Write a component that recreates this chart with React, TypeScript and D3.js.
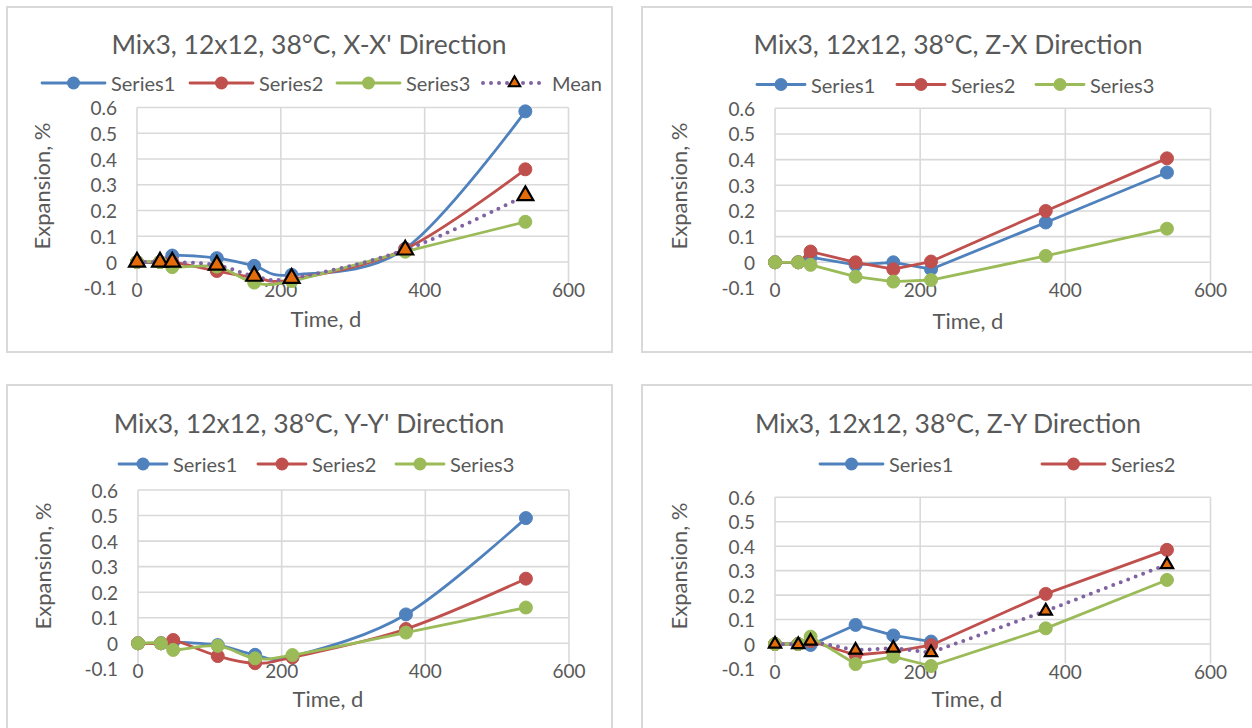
import * as d3 from "d3";

// days of measurement, shared by all four charts
const DAYS = [0, 32, 49, 111, 163, 215, 373, 540];
const X_TICKS = [0, 200, 400, 600];
const Y_TICKS = [-0.1, 0, 0.1, 0.2, 0.3, 0.4, 0.5, 0.6];

// X-X' direction
const XX_S1 = [0, 0, 0.025, 0.015, -0.015, -0.05, 0.052, 0.585];
const XX_S2 = [0, 0, 0, -0.035, -0.06, -0.068, 0.05, 0.36];
const XX_S3 = [0, 0, -0.02, -0.018, -0.08, -0.074, 0.04, 0.156];
const XX_MEAN = [0, 0, 0, -0.012, -0.055, -0.063, 0.047, 0.258];

// Z-X direction
const ZX_S1 = [0, 0, 0.02, -0.01, 0, -0.027, 0.155, 0.35];
const ZX_S2 = [0, 0, 0.042, 0, -0.027, 0.003, 0.2, 0.405];
const ZX_S3 = [0, 0, -0.01, -0.056, -0.075, -0.069, 0.025, 0.131];

// Y-Y' direction
const YY_S1 = [0, 0, 0.005, -0.007, -0.045, -0.052, 0.113, 0.49];
const YY_S2 = [0, 0, 0.013, -0.05, -0.078, -0.055, 0.056, 0.253];
const YY_S3 = [0, 0, -0.026, -0.01, -0.059, -0.046, 0.042, 0.14];

// Z-Y direction (series1 stops at day 215)
const ZY_S1 = [0, 0, -0.004, 0.078, 0.035, 0.01];
const ZY_S2 = [0, 0, 0.012, -0.045, -0.031, -0.005, 0.205, 0.385];
const ZY_S3 = [0, 0, 0.03, -0.082, -0.052, -0.09, 0.064, 0.262];
const ZY_MEAN = [0, -0.002, 0.012, -0.025, -0.017, -0.035, 0.135, 0.325];

const BLUE = "#4F81BD";
const RED = "#C0504D";
const GREEN = "#9BBB59";
const PURPLE = "#8064A2";
const ORANGE = "#E46C0A";
const GRID = "#d9d9d9";
const TEXT = "#595959";
const FONT = "Lato, 'Open Sans', sans-serif";

type Series = { name: string; values: number[]; color: string; mean?: boolean; legend: boolean };

const mk = (name: string, values: number[], color: string, legend = true): Series => ({ name, values, color, legend });
const mean = (values: number[], legend: boolean): Series => ({ name: "Mean", values, color: PURPLE, mean: true, legend });

const panels = [
  {
    title: "Mix3, 12x12, 38°C, X-X' Direction",
    series: [mk("Series1", XX_S1, BLUE), mk("Series2", XX_S2, RED), mk("Series3", XX_S3, GREEN), mean(XX_MEAN, true)],
    frame: [7, 7, 605, 345], px: [137, 568.5], py: [262, 107.5], smooth: true,
    titleAt: [309, 43.5], legendY: 83, legendX: [42, 190, 337, 483], legendLen: 63,
    yTitle: [41, 186], xTitle: [326, 318], tri: 110,
  },
  {
    title: "Mix3, 12x12, 38°C, Z-X Direction",
    series: [mk("Series1", ZX_S1, BLUE), mk("Series2", ZX_S2, RED), mk("Series3", ZX_S3, GREEN)],
    frame: [642, 7, 640, 345], px: [775, 1210.5], py: [262.3, 108.3], smooth: false,
    titleAt: [948, 44], legendY: 84.5, legendX: [757, 897, 1036], legendLen: 48,
    yTitle: [678, 186], xTitle: [968, 320], tri: 110,
  },
  {
    title: "Mix3, 12x12, 38°C, Y-Y' Direction",
    series: [mk("Series1", YY_S1, BLUE), mk("Series2", YY_S2, RED), mk("Series3", YY_S3, GREEN)],
    frame: [7, 385, 605, 380], px: [138, 569], py: [643.3, 490], smooth: true,
    titleAt: [309, 423], legendY: 464, legendX: [119, 258, 396], legendLen: 48,
    yTitle: [42, 566], xTitle: [328, 698], tri: 110,
  },
  {
    title: "Mix3, 12x12, 38°C, Z-Y Direction",
    series: [mk("Series1", ZY_S1, BLUE), mk("Series2", ZY_S2, RED), mk("Series3", ZY_S3, GREEN, false), mean(ZY_MEAN, false)],
    frame: [642, 385, 640, 380], px: [775, 1210.5], py: [644, 497.3], smooth: false,
    titleAt: [948, 423], legendY: 464, legendX: [820, 1042], legendLen: 63,
    yTitle: [678, 566], xTitle: [967, 698], tri: 66,
  },
];

function Marker({ s, x, y, tri }: { s: Series; x: number; y: number; tri: number }) {
  if (s.mean) {
    return (
      <path d={d3.symbol(d3.symbolTriangle, tri)()!} transform={`translate(${x},${y})`}
        fill={ORANGE} stroke="#000" strokeWidth={2.2} strokeLinejoin="miter" />
    );
  }
  return <circle cx={x} cy={y} r={6.5} fill={s.color} stroke={s.color} strokeWidth={1} />;
}

function Panel({ p }: { p: (typeof panels)[number] }) {
  const x = d3.scaleLinear().domain([0, 600]).range(p.px);
  const y = d3.scaleLinear().domain([0, 0.6]).range(p.py);
  const [fx, fy, fw, fh] = p.frame;
  const line = d3.line<number>()
    .x((_, i) => x(DAYS[i]))
    .y((d) => y(d))
    .curve(p.smooth ? d3.curveCatmullRom.alpha(0) : d3.curveLinear);
  const x0 = x(0);
  const yTop = y(0.6);
  const yBot = y(-0.1);

  return (
    <g fontFamily={FONT}>
      <rect x={fx} y={fy} width={fw} height={fh} fill="#fff" stroke={GRID} strokeWidth={2} />
      <text x={p.titleAt[0]} y={p.titleAt[1]} textAnchor="middle" dominantBaseline="central"
        fontSize={26.5} fill={TEXT}>{p.title}</text>

      {/* gridlines */}
      {Y_TICKS.filter((t) => t >= 0).map((t) => (
        <line key={"h" + t} x1={x(0)} x2={x(600)} y1={y(t)} y2={y(t)} stroke={GRID} strokeWidth={1.6} />
      ))}
      {X_TICKS.map((t) => (
        <line key={"v" + t} x1={x(t)} x2={x(t)} y1={yTop} y2={yBot - 5} stroke={GRID} strokeWidth={1.6} />
      ))}

      {/* tick labels */}
      {Y_TICKS.map((t) => (
        <text key={"yl" + t} x={x0 - 20} y={y(t)} textAnchor="end" dominantBaseline="central"
          fontSize={19} fill={TEXT}>{String(+t.toFixed(1))}</text>
      ))}
      {X_TICKS.map((t) => (
        <text key={"xl" + t} x={x(t)} y={y(0) + 27} textAnchor="middle" dominantBaseline="central"
          fontSize={19} fill={TEXT}>{t}</text>
      ))}

      <text transform={`translate(${p.yTitle[0]},${p.yTitle[1]}) rotate(-90)`} textAnchor="middle"
        dominantBaseline="central" fontSize={22} fill={TEXT}>Expansion, %</text>
      <text x={p.xTitle[0]} y={p.xTitle[1]} textAnchor="middle" dominantBaseline="central"
        fontSize={22} fill={TEXT}>Time, d</text>

      {/* series */}
      {p.series.map((s) => (
        <g key={s.name}>
          <path d={line(s.values)!} fill="none" stroke={s.color}
            strokeWidth={s.mean ? 4 : 2.8} strokeLinecap="round" strokeLinejoin="round"
            strokeDasharray={s.mean ? "0 8" : undefined} />
          {s.values.map((v, i) => (
            <Marker key={i} s={s} x={x(DAYS[i])} y={y(v)} tri={p.tri} />
          ))}
        </g>
      ))}

      {/* legend */}
      {p.series.filter((s) => s.legend).map((s, i) => {
        const lx = p.legendX[i];
        const ly = p.legendY;
        const len = p.legendLen;
        return (
          <g key={"lg" + s.name}>
            <line x1={lx} x2={lx + len} y1={ly} y2={ly} stroke={s.color}
              strokeWidth={s.mean ? 4 : 2.8} strokeLinecap="round"
              strokeDasharray={s.mean ? "0 8" : undefined} />
            {s.mean
              ? <path d={d3.symbol(d3.symbolTriangle, 58)()!} transform={`translate(${lx + len / 2},${ly})`}
                  fill={ORANGE} stroke="#000" strokeWidth={2} />
              : <circle cx={lx + len / 2} cy={ly} r={6.5} fill={s.color} />}
            <text x={lx + len + 6} y={ly} dominantBaseline="central" fontSize={20} fill={TEXT}>{s.name}</text>
          </g>
        );
      })}
    </g>
  );
}

export default function App() {
  return (
    <svg width={1252} height={728} style={{ position: "absolute", left: 0, top: 0, background: "#fff" }}>
      <rect width={1252} height={728} fill="#fff" />
      {panels.map((p) => <Panel key={p.title} p={p} />)}
    </svg>
  );
}
